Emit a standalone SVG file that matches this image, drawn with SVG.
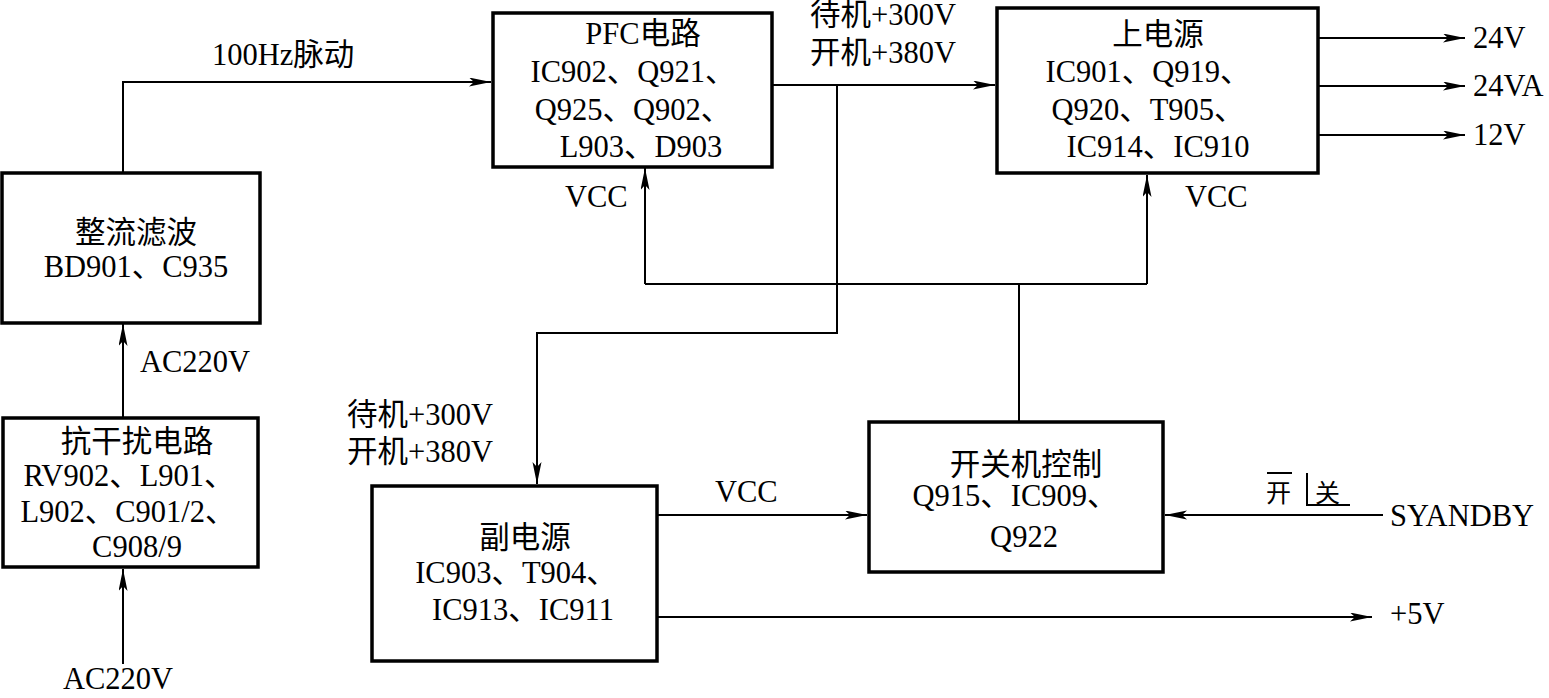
<svg xmlns="http://www.w3.org/2000/svg" width="1549" height="698" viewBox="0 0 1549 698">
<style>
text{font-family:"Liberation Serif","Noto Sans CJK SC",serif;font-size:30.5px;fill:#000}
.m{text-anchor:middle}
.box{fill:#fff;stroke:#000;stroke-width:3.5}
.c{fill:none;stroke:#000;stroke-width:2}
</style>
<defs>
<marker id="a" markerUnits="userSpaceOnUse" markerWidth="24" markerHeight="10" refX="22" refY="4.5" orient="auto">
<path d="M0,0 L22,4.5 L0,9 L5,4.5 z" fill="#000"/>
</marker>
</defs>
<rect width="1549" height="698" fill="#fff"/>
<g id="connectors">
<path class="c" d="M123,173 V82 H491" marker-end="url(#a)"/>
<path class="c" d="M123,664 V569" marker-end="url(#a)"/>
<path class="c" d="M123,418 V324" marker-end="url(#a)"/>
<path class="c" d="M772,85 H995" marker-end="url(#a)"/>
<path class="c" d="M837,85 V333 H537 V484" marker-end="url(#a)"/>
<path class="c" d="M1019,422 V284"/>
<path class="c" d="M645,284 H1147"/>
<path class="c" d="M645,284 V168" marker-end="url(#a)"/>
<path class="c" d="M1147,284 V175" marker-end="url(#a)"/>
<path class="c" d="M657,515 H867" marker-end="url(#a)"/>
<path class="c" d="M657,617 H1372" marker-end="url(#a)"/>
<path class="c" d="M1383,515 H1165" marker-end="url(#a)"/>
<path class="c" d="M1318,38 H1465" marker-end="url(#a)"/>
<path class="c" d="M1318,86 H1465" marker-end="url(#a)"/>
<path class="c" d="M1318,135 H1465" marker-end="url(#a)"/>
<path class="c" d="M1267,473 H1292 M1307,473 V505 H1350"/>
</g>
<g id="labels">
<text x="212" y="65">100Hz脉动</text>
<text x="140" y="372">AC220V</text>
<text x="63" y="689">AC220V</text>
<text x="810" y="25">待机+300V</text>
<text x="810" y="63">开机+380V</text>
<text x="347" y="425">待机+300V</text>
<text x="347" y="462">开机+380V</text>
<text x="565" y="207">VCC</text>
<text x="1185" y="207">VCC</text>
<text x="715" y="502">VCC</text>
<text x="1390" y="624">+5V</text>
<text x="1390" y="526">SYANDBY</text>
<text x="1473" y="48">24V</text>
<text x="1473" y="96">24VA</text>
<text x="1473" y="145">12V</text>
<text x="1266" y="502" style="font-size:25px">开</text>
<text x="1315" y="502" style="font-size:25px">关</text>
</g>
<g id="rectifier">
<rect class="box" x="2" y="173" width="258" height="150"/>
<text class="m" x="136" y="243">整流滤波</text>
<text class="m" x="136" y="277">BD901、C935</text>
</g>
<g id="emi">
<rect class="box" x="3" y="418" width="255" height="149"/>
<text class="m" x="137" y="452">抗干扰电路</text>
<text class="m" x="129" y="486">RV902、L901、</text>
<text class="m" x="128" y="522">L902、C901/2、</text>
<text class="m" x="137" y="557">C908/9</text>
</g>
<g id="pfc">
<rect class="box" x="493" y="13" width="279" height="154"/>
<text class="m" x="643" y="44">PFC电路</text>
<text class="m" x="633" y="82">IC902、Q921、</text>
<text class="m" x="633" y="120">Q925、Q902、</text>
<text class="m" x="641" y="157">L903、D903</text>
</g>
<g id="main-power">
<rect class="box" x="997" y="8" width="321" height="165"/>
<text class="m" x="1158" y="45">上电源</text>
<text class="m" x="1148" y="82">IC901、Q919、</text>
<text class="m" x="1148" y="120">Q920、T905、</text>
<text class="m" x="1158" y="157">IC914、IC910</text>
</g>
<g id="aux-power">
<rect class="box" x="372" y="486" width="285" height="175"/>
<text class="m" x="525" y="548">副电源</text>
<text class="m" x="516" y="583">IC903、T904、</text>
<text class="m" x="523" y="620">IC913、IC911</text>
</g>
<g id="switch-control">
<rect class="box" x="869" y="422" width="294" height="150"/>
<text class="m" x="1026" y="475">开关机控制</text>
<text class="m" x="1015" y="506">Q915、IC909、</text>
<text class="m" x="1024" y="547">Q922</text>
</g>
</svg>
